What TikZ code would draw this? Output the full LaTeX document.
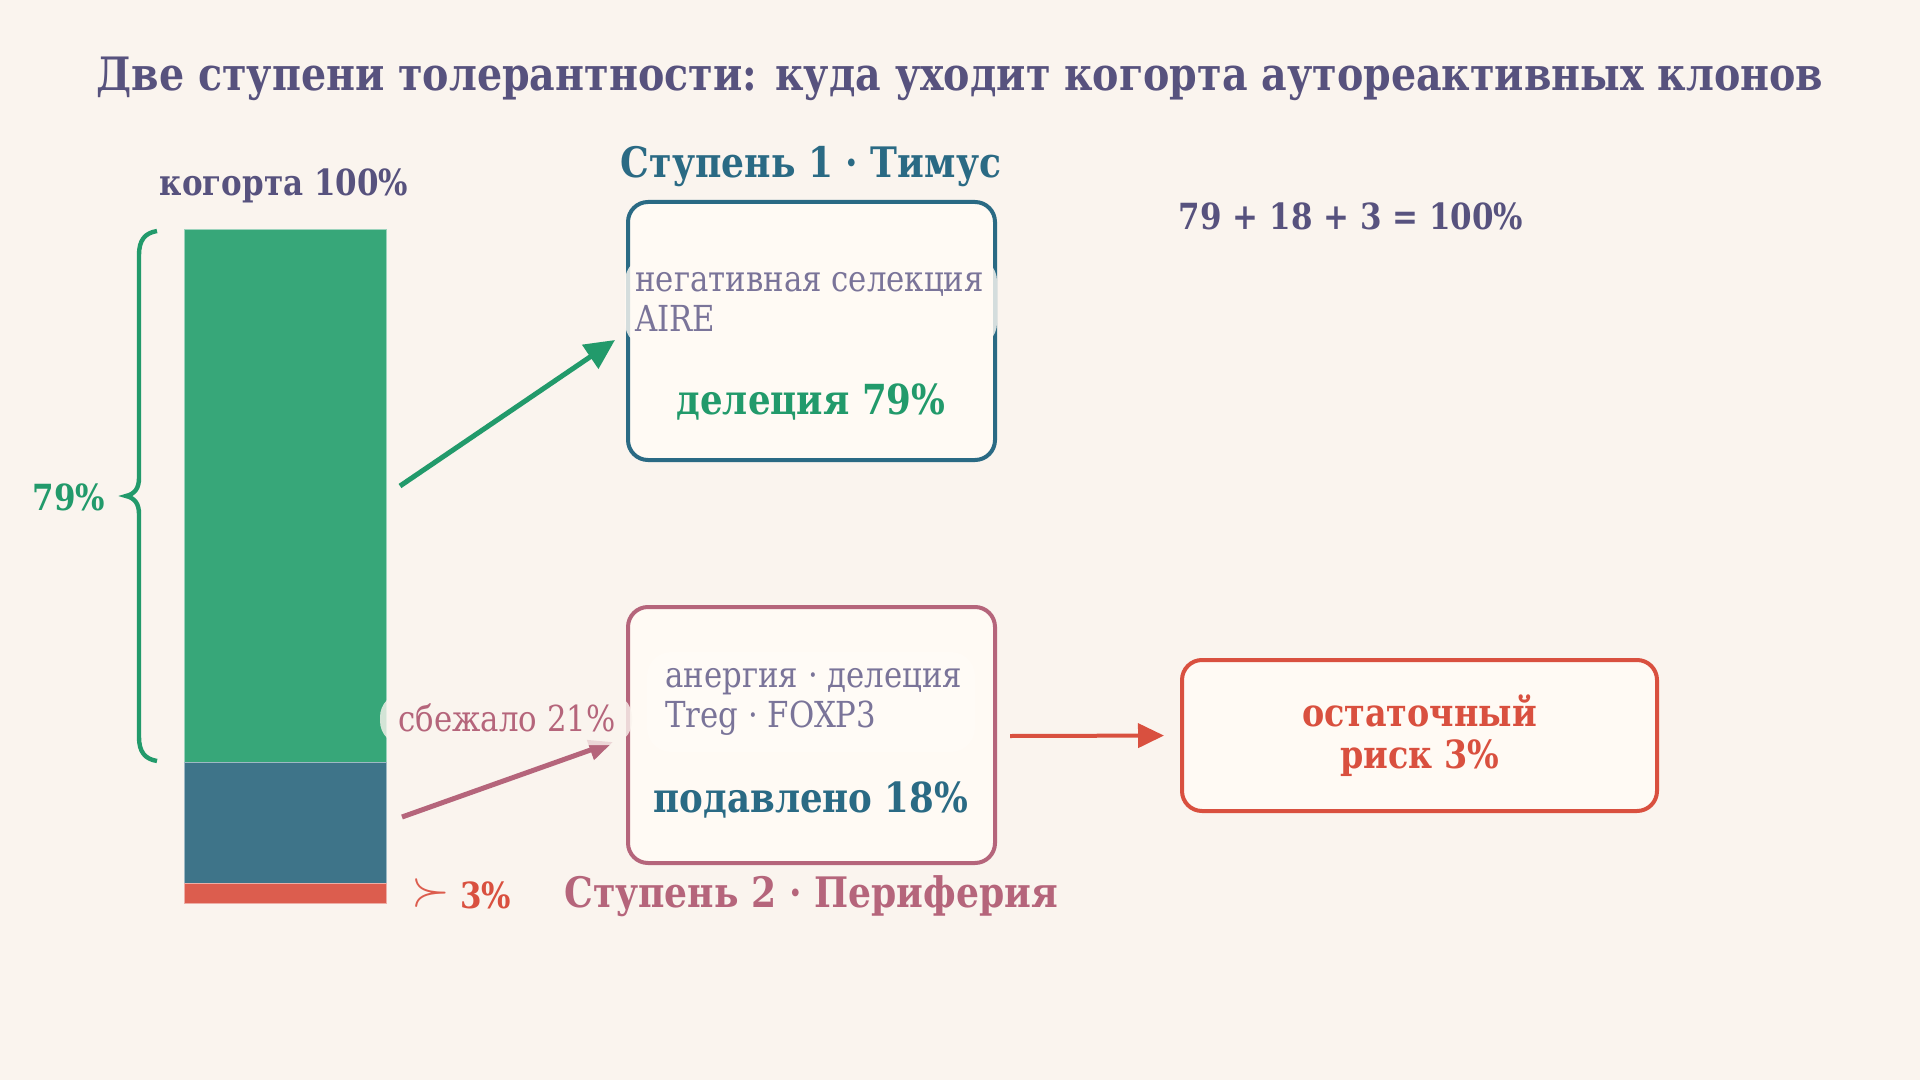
\documentclass[tikz,border=0pt]{standalone}
\usepackage{fontspec}
\setmainfont{DejaVu Serif}[FakeStretch=0.86]
\usetikzlibrary{arrows.meta}
\definecolor{bg}{HTML}{FAF4EE}
\definecolor{boxfill}{HTML}{FFFAF4}
\definecolor{ttl}{HTML}{57527E}
\definecolor{teal}{HTML}{2A6A84}
\definecolor{grn}{HTML}{229A6B}
\definecolor{bargrn}{HTML}{37A779}
\definecolor{barblu}{HTML}{3E7489}
\definecolor{barred}{HTML}{DC5D4E}
\definecolor{rd}{HTML}{D9503F}
\definecolor{mauve}{HTML}{B5657B}
\definecolor{gtxt}{HTML}{7A7499}
\tikzset{
  stagebox/.style={draw, line width=2pt, rounded corners=10pt, fill=boxfill, inner sep=0pt},
  seg/.style={inner sep=0pt, minimum width=101pt, line width=0.5pt},
  patch/.style={inner sep=0pt, rounded corners=12pt, fill opacity=0.85},
  ttlfont/.style={font=\fontsize{23pt}{27pt}\selectfont\bfseries},
  lblfont/.style={font=\fontsize{18pt}{22pt}\selectfont\bfseries},
  boxbold/.style={font=\fontsize{20.7pt}{24pt}\selectfont\bfseries},
  hdfont/.style={font=\fontsize{21pt}{25pt}\selectfont\bfseries},
  regfont/.style={font=\fontsize{17.9pt}{21pt}\selectfont},
  arr/.style={line width=2.5pt},
}
\begin{document}
\begin{tikzpicture}[x=0.5pt,y=-0.5pt]
\fill[bg] (0,0) rectangle (1920,1080);
\useasboundingbox (0,0) rectangle (1920,1080);

% title
\node[ttlfont, text=ttl] (title) at (960,79) {Две ступени толерантности: куда уходит когорта аутореактивных клонов};

% bar
\node[seg, fill=bargrn, draw=bargrn!50!white, minimum height=266pt] (g) at (285,496) {};
\node[seg, fill=barblu, draw=barblu!50!white, minimum height=60.5pt] (b) at (285,822.5) {};
\node[seg, fill=barred, draw=barred!50!white, minimum height=10pt] (r) at (285,893.5) {};
\node[lblfont, text=ttl] (coh) at (284,186) {когорта 100\%};

% brace
\draw[grn, line width=2.2pt] (157,231) .. controls (145,233) and (139,240) .. (139,255) -- (139,478) .. controls (139,488) and (135,494) .. (126,496) .. controls (135,498) and (139,504) .. (139,514) -- (139,737) .. controls (139,752) and (145,759) .. (157,761);
\node[lblfont, text=grn] (p79) at (69,497) {79\%};

% boxes
\node[stagebox, draw=teal, minimum width=183.5pt, minimum height=129pt] (box1) at (811.5,331) {};
\node[stagebox, draw=mauve, minimum width=183.5pt, minimum height=128pt] (box2) at (811.5,735) {};
\node[stagebox, draw=rd, minimum width=237.5pt, minimum height=75.5pt] (box3) at (1419.5,735.5) {};

% arrows
\coordinate (a1s) at (400,486);
\coordinate (a1e) at (615,340);
\draw[arr, grn, -{Triangle[length=15pt,width=14pt]}] (a1s) -- (a1e);
\coordinate (a2s) at (402,817);
\coordinate (a2e) at (613,742);
\draw[arr, mauve, -{Triangle[length=12pt,width=10pt]}] (a2s) -- (a2e);
\coordinate (a3s) at (1010,736);
\draw[line width=2pt, rd, -{Triangle[length=13pt,width=12pt]}, shorten >=8pt] (a3s) -- (box3.west);

% patches
\node[patch, fill=boxfill, fill opacity=0.8, minimum width=186pt, minimum height=45pt] (pt1) at (811,302) {};
\node[patch, fill=white!40!boxfill, fill opacity=0.5, minimum width=164pt, minimum height=50pt] (pt2) at (811,702) {};
\node[patch, fill=bg, fill opacity=0.8, minimum width=126pt, minimum height=26pt] (pt3) at (506,719) {};

% stage headings
\node[hdfont, text=teal] (h1) at (811,167) {Ступень 1 · Тимус};
\node[hdfont, text=mauve] (h2) at (811,896) {Ступень 2 · Периферия};

% box 1 text
\node[regfont, text=gtxt, anchor=base west, inner sep=0pt] (t1a) at (635,292) {негативная селекция};
\node[regfont, text=gtxt, anchor=base west, inner sep=0pt] (t1b) at (635,332) {AIRE};
\node[boxbold, text=grn] (t1c) at (811,402) {делеция 79\%};

% box 2 text
\node[regfont, text=gtxt, anchor=base west, inner sep=0pt] (t2a) at (665,687) {анергия · делеция};
\node[regfont, text=gtxt, anchor=base west, inner sep=0pt] (t2b) at (665,727) {Treg · FOXP3};
\node[boxbold, text=teal] (t2c) at (811,800) {подавлено 18\%};

% box 3 text
\node[font=\fontsize{19.4pt}{22pt}\selectfont\bfseries, text=rd, align=center] (t3) at (1419.5,736) {остаточный\\[-1pt]риск 3\%};

% escaped label
\node[regfont, text=mauve] (esc) at (507,718) {сбежало 21\%};

% 3% label
\node[text=barred, font=\fontsize{26pt}{30pt}\selectfont, inner sep=0pt] (succ) at (431,893) {$\succ$};
\node[lblfont, text=rd, anchor=west, inner sep=0pt] (p3) at (460,895) {3\%};

% sum
\node[lblfont, text=ttl] (sum) at (1351,216) {79 + 18 + 3 = 100\%};
\end{tikzpicture}
\end{document}
